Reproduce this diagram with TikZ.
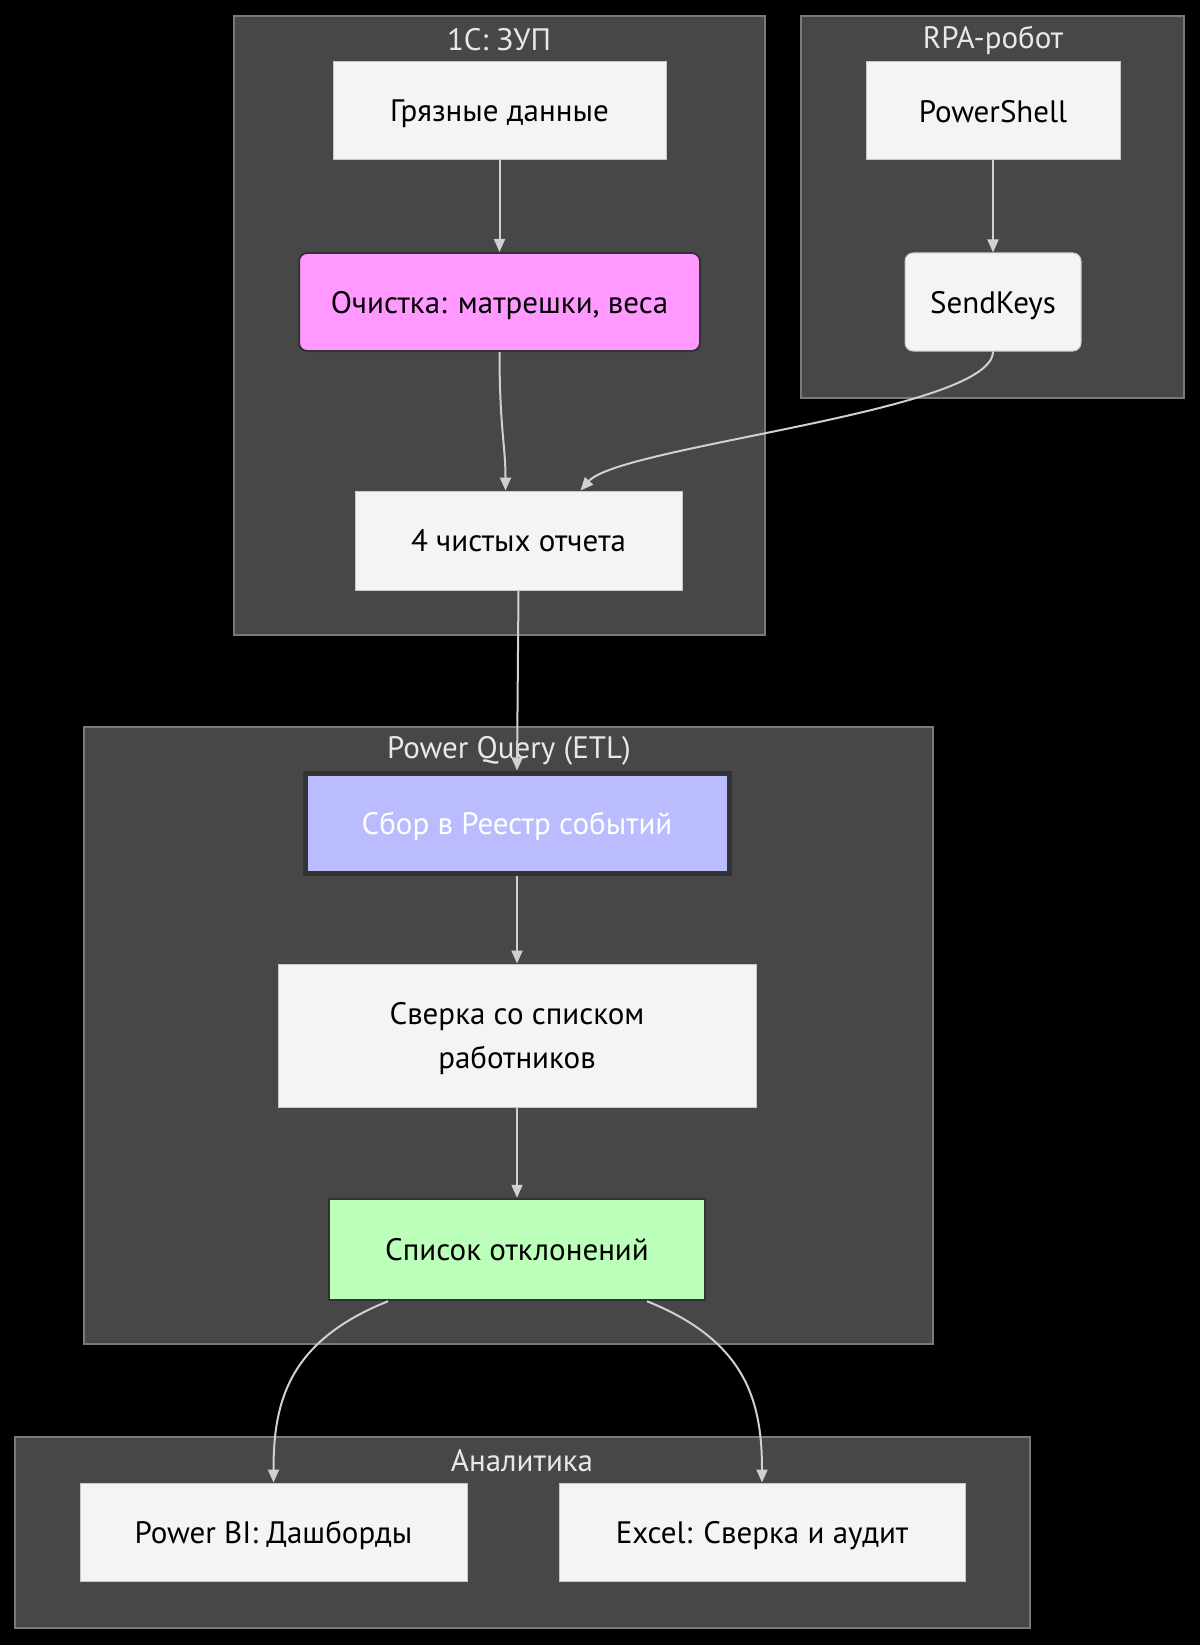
\documentclass[tikz,border=0pt]{standalone}
\usepackage{fontspec}
\setmainfont{PT Sans}
\usetikzlibrary{arrows.meta,calc}
\definecolor{bgc}{HTML}{000000}
\definecolor{clfill}{HTML}{474747}
\definecolor{clline}{HTML}{7A7A7A}
\definecolor{nfill}{HTML}{F4F4F4}
\definecolor{nline}{HTML}{C8C8C8}
\definecolor{edgec}{HTML}{D0D0D0}
\definecolor{pinkc}{HTML}{FF99FF}
\definecolor{bluec}{HTML}{BBBBFF}
\definecolor{greenc}{HTML}{BBFFBB}
\definecolor{darkb}{HTML}{333333}
\definecolor{titlec}{HTML}{E8E8E8}
\tikzset{
  cluster/.style={draw=clline, fill=clfill, line width=1.5pt},
  ctitle/.style={text=titlec, font=\fontsize{31}{36}\selectfont, anchor=center, inner sep=0pt},
  box/.style={draw=nline, fill=nfill, line width=1pt, text=black, font=\fontsize{31}{44}\selectfont, align=center, inner sep=0pt, text depth=0pt},
  rbox/.style={box, rounded corners=8pt},
  conn/.style={draw=edgec, line width=2pt, -{Triangle[length=13pt,width=11pt]}},
}
\begin{document}
\begin{tikzpicture}[x=1pt,y=-1pt]
\fill[bgc] (0,0) rectangle (1200,1645);
\useasboundingbox (0,0) rectangle (1200,1645);
% clusters
\draw[cluster] (234,16) rectangle (765,635);
\draw[cluster] (801,16) rectangle (1184,398);
\draw[cluster] (84,727) rectangle (933,1344);
\draw[cluster] (15,1437) rectangle (1030,1628);
\node[ctitle] (t1) at (499,40) {1C: ЗУП};
\node[ctitle] (t2) at (993,40) {RPA-робот};
\node[ctitle] (t3) at (509,751) {Power Query (ETL)};
\node[ctitle] (t4) at (522,1461) {Аналитика};
% nodes
\node[box, minimum width=333pt, minimum height=98pt] (dirty) at (499.5,111) {Грязные данные};
\node[rbox, fill=pinkc, draw=darkb, line width=2pt, minimum width=401pt, minimum height=98pt] (clean) at (499.5,302) {Очистка: матрешки, веса};
\node[box, minimum width=327pt, minimum height=99pt] (four) at (518.5,540.5) {4 чистых отчета};
\node[box, minimum width=254pt, minimum height=98pt] (ps) at (993,111) {PowerShell};
\node[rbox, minimum width=176pt, minimum height=98pt] (sk) at (993,302) {SendKeys};
\node[box, fill=bluec, draw=darkb, line width=5pt, text=white, minimum width=424pt, minimum height=100pt] (sbor) at (517,823) {Сбор в Реестр событий};
\node[box, minimum width=478pt, minimum height=143pt] (sverka) at (517,1035.5) {Сверка со списком\\работников};
\node[box, fill=greenc, draw=darkb, line width=2.5pt, minimum width=376pt, minimum height=101pt] (spisok) at (517,1249.5) {Список отклонений};
\node[box, minimum width=387pt, minimum height=98pt] (pbi) at (273.5,1532) {Power BI: Дашборды};
\node[box, minimum width=406pt, minimum height=98pt] (excel) at (762,1532) {Excel: Сверка и аудит};
% edges
\draw[conn] (dirty.south) -- (clean.north);
\draw[conn] (clean.south) .. controls +(0,75) and +(0,-45) .. ([xshift=-13pt]four.north);
\draw[conn] (ps.south) -- (sk.north);
\draw[conn] (sk.south) .. controls +(0,60) and +(40,-45) .. ([xshift=62pt]four.north);
\draw[conn] (four.south) -- (sbor.north);
\draw[conn] (sbor.south) -- (sverka.north);
\draw[conn] (sverka.south) -- (spisok.north);
\draw[conn] ([xshift=-129pt]spisok.south) .. controls +(-100,40) and +(0,-80) .. (pbi.north);
\draw[conn] ([xshift=130pt]spisok.south) .. controls +(100,40) and +(0,-80) .. (excel.north);
\end{tikzpicture}
\end{document}
